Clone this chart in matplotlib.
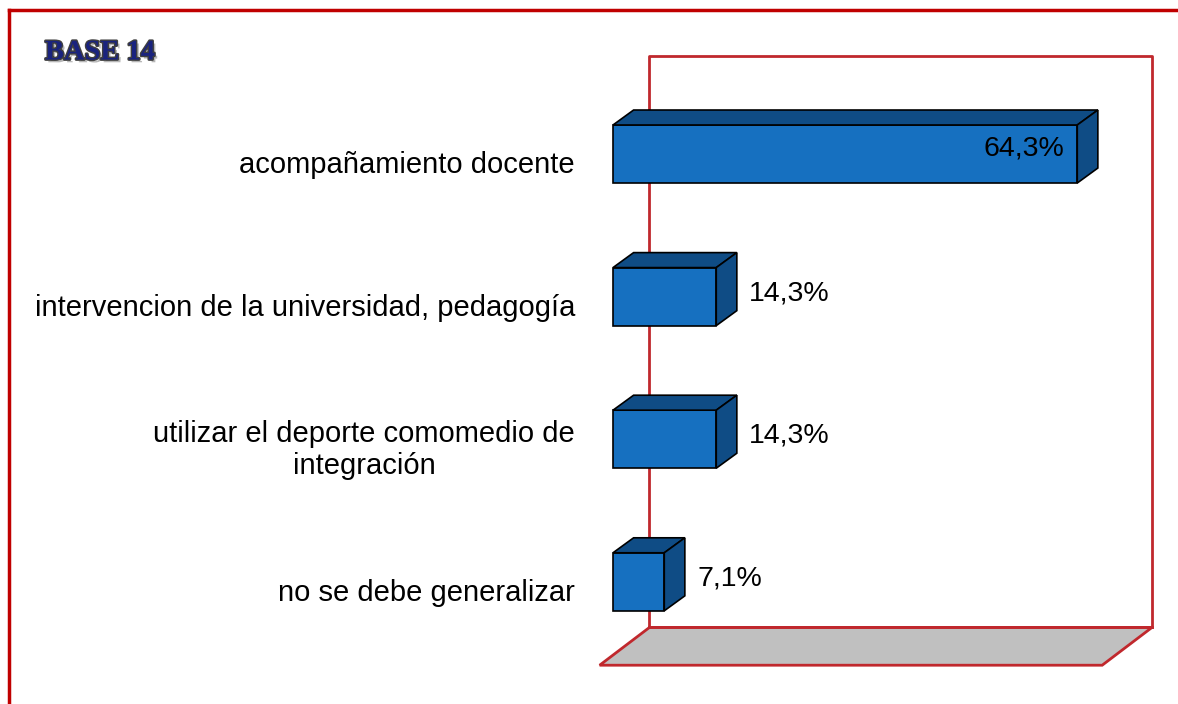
import matplotlib.pyplot as plt
from matplotlib.patches import Polygon
from matplotlib.lines import Line2D
import matplotlib.patheffects as pe

categories = ["acompañamiento docente",
              "intervencion de la universidad, pedagogía",
              "utilizar el deporte comomedio de\nintegración",
              "no se debe generalizar"]
values = [64.3, 14.3, 14.3, 7.1]
value_labels = ["64,3%", "14,3%", "14,3%", "7,1%"]
base_text = "BASE 14"

front = "#1670C0"
dark = "#0F4C85"
red = "#C0282D"

fig = plt.figure(figsize=(11.78, 7.04), dpi=100)
ax = fig.add_axes([0, 0, 1, 1])
ax.set_xlim(-84.9, 78.25)
ax.set_ylim(3.857, -1.08)
ax.axis("off")

# back wall and floor
width = 69.6
fx, fy = -1.85, 3.585     # front edge of floor
bx, by = 5.05, 3.32       # back edge
wall_top = -0.69
ax.add_patch(Polygon([(bx, by), (bx + width, by), (fx + width, fy), (fx, fy)],
                     closed=True, facecolor="#C0C0C0", edgecolor=red, lw=2, zorder=1))
ax.plot([bx, bx, bx + width, bx + width], [by, wall_top, wall_top, by], color=red, lw=2, zorder=1)
ax.plot([bx, bx + width], [by, by], color=red, lw=2, zorder=1)

# 3D-ish bars
h = 0.407
ddx, ddy = 2.85, -0.105
for i, v in enumerate(values):
    top = i - h / 2
    bot = i + h / 2
    ax.barh(i, v, height=h, left=0, color=front, edgecolor="black", lw=1.2, zorder=3)
    ax.add_patch(Polygon([(0, top), (v, top), (v + ddx, top + ddy), (ddx, top + ddy)],
                         closed=True, facecolor=dark, edgecolor="black", lw=1.2, zorder=3))
    ax.add_patch(Polygon([(v, top), (v + ddx, top + ddy), (v + ddx, bot + ddy), (v, bot)],
                         closed=True, facecolor=dark, edgecolor="black", lw=1.2, zorder=3))
    ax.text(-5.26, i + 0.077, categories[i], ha="right", va="center", multialignment="center",
            fontsize=21, family="Liberation Sans", color="black")
    if v > 50:
        ax.text(v - 1.8, i - 0.04, value_labels[i], ha="right", va="center",
                fontsize=20.5, family="Liberation Sans", zorder=4)
    else:
        ax.text(v + ddx + 1.7, i - 0.025, value_labels[i], ha="left", va="center",
                fontsize=20.5, family="Liberation Sans", zorder=4)

# outer frame
fig.add_artist(Line2D([9 / 1178, 9 / 1178], [0, 1 - 10 / 704], color="#C00000", lw=2.5))
fig.add_artist(Line2D([9 / 1178, 1], [1 - 10 / 704, 1 - 10 / 704], color="#C00000", lw=2.5))

fig.text(45 / 1178, 1 - 53 / 704, base_text, ha="left", va="center", fontsize=20.5,
         family="Liberation Serif", weight="bold", color="#1A237E",
         path_effects=[pe.withSimplePatchShadow(offset=(2, -2), shadow_rgbFace="#888888", alpha=0.6),
                       pe.withStroke(linewidth=2, foreground="#404040")])

fig.savefig("out.png", dpi=100)
